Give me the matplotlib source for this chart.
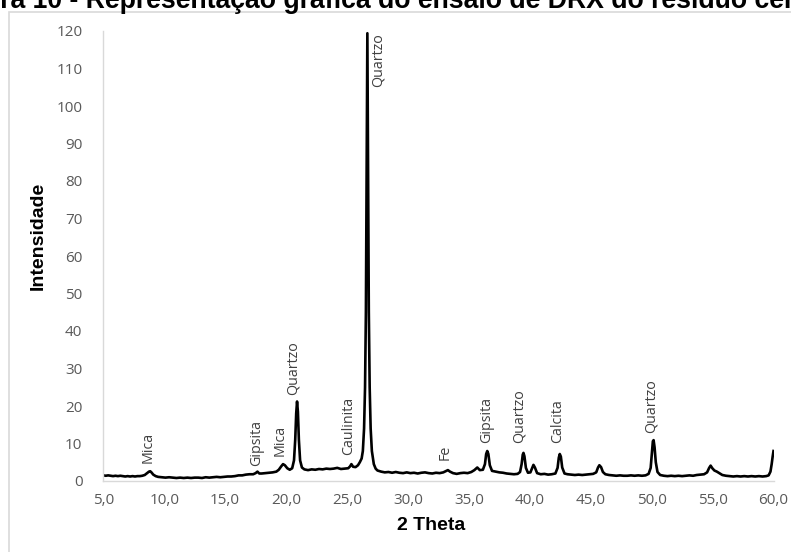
import matplotlib
matplotlib.use('Agg')
import matplotlib.pyplot as plt
from matplotlib.patches import Rectangle

# ---- data ----
two_theta = [5.0, 5.2, 5.4, 5.6, 5.8, 6.0, 6.2, 6.4, 6.6, 6.8, 7.0, 7.2, 7.4, 7.6, 7.8, 8.0, 8.2, 8.4, 8.6, 8.75,
             8.85, 8.95, 9.1, 9.3, 9.5, 9.8, 10.1, 10.4, 10.7, 11.0, 11.3, 11.6, 11.9, 12.2, 12.5, 12.8, 13.1, 13.4,
             13.7, 14.0, 14.3, 14.6, 14.9, 15.2, 15.5, 15.8, 16.1, 16.4, 16.7, 17.0, 17.3, 17.5, 17.65, 17.8, 18.0,
             18.3, 18.6, 18.9, 19.2, 19.4, 19.6, 19.75, 19.9, 20.1, 20.3, 20.5, 20.65, 20.75, 20.83, 20.9, 20.97,
             21.05, 21.15, 21.3, 21.5, 21.8, 22.1, 22.4, 22.7, 23.0, 23.3, 23.6, 23.9, 24.2, 24.5, 24.8, 25.1, 25.25,
             25.36, 25.5, 25.7, 25.9, 26.05, 26.2, 26.3, 26.4, 26.48, 26.55, 26.6, 26.67, 26.74, 26.79, 26.86, 26.94,
             27.04, 27.2, 27.35, 27.5, 27.8, 28.1, 28.4, 28.7, 29.0, 29.3, 29.6, 29.9, 30.2, 30.5, 30.8, 31.1, 31.4,
             31.7, 32.0, 32.3, 32.6, 32.9, 33.1, 33.28, 33.45, 33.7, 34.0, 34.3, 34.6, 34.9, 35.2, 35.45, 35.69, 35.9,
             36.15, 36.32, 36.42, 36.51, 36.6, 36.72, 36.9, 37.2, 37.5, 37.8, 38.1, 38.4, 38.7, 39.0, 39.2, 39.33,
             39.42, 39.48, 39.56, 39.68, 39.85, 40.05, 40.2, 40.3, 40.42, 40.6, 40.9, 41.2, 41.5, 41.8, 42.1, 42.28,
             42.38, 42.46, 42.55, 42.66, 42.85, 43.1, 43.4, 43.7, 44.0, 44.3, 44.6, 44.9, 45.2, 45.45, 45.6, 45.71,
             45.85, 46.0, 46.2, 46.5, 46.8, 47.1, 47.4, 47.7, 48.0, 48.3, 48.6, 48.9, 49.2, 49.5, 49.75, 49.92, 50.02,
             50.1, 50.16, 50.24, 50.34, 50.48, 50.7, 51.0, 51.3, 51.6, 51.9, 52.2, 52.5, 52.8, 53.1, 53.4, 53.7, 54.0,
             54.3, 54.55, 54.72, 54.84, 54.98, 55.15, 55.35, 55.55, 55.8, 56.1, 56.4, 56.7, 57.0, 57.3, 57.6, 57.9,
             58.2, 58.5, 58.8, 59.1, 59.4, 59.6, 59.75, 59.85, 59.93, 60.0]
intensity = [1.5, 1.4, 1.5, 1.4, 1.3, 1.4, 1.3, 1.4, 1.3, 1.2, 1.3, 1.2, 1.3, 1.2, 1.3, 1.3, 1.4, 1.6, 2.1, 2.5,
             2.6, 2.3, 1.7, 1.3, 1.1, 1.0, 0.9, 1.0, 0.9, 0.8, 0.9, 0.8, 0.9, 0.8, 0.9, 0.9, 0.8, 1.0,
             0.9, 1.0, 1.1, 1.0, 1.1, 1.2, 1.2, 1.3, 1.5, 1.5, 1.7, 1.8, 1.8, 2.1, 2.5, 2.0, 2.0,
             2.1, 2.2, 2.3, 2.5, 3.0, 3.9, 4.5, 4.2, 3.4, 3.0, 3.4, 5.5, 11.0, 18.0, 21.2, 18.5,
             11.0, 5.5, 3.6, 3.1, 2.9, 3.1, 3.0, 3.2, 3.1, 3.3, 3.2, 3.3, 3.5, 3.2, 3.3, 3.4, 3.9,
             4.5, 3.8, 3.7, 4.2, 5.0, 6.0, 8.0, 14.0, 25.0, 45.0, 75.0, 119.4, 75.0, 45.0, 25.0, 14.0,
             8.0, 4.5, 3.3, 2.8, 2.5, 2.3, 2.4, 2.2, 2.4, 2.2, 2.1, 2.3, 2.1, 2.2, 2.0, 2.2, 2.3,
             2.1, 2.0, 2.2, 2.1, 2.3, 2.6, 2.9, 2.5, 2.1, 1.9, 2.1, 2.2, 2.1, 2.4, 2.9, 3.6, 2.9,
             3.0, 4.5, 7.2, 8.0, 7.2, 4.2, 2.7, 2.5, 2.3, 2.2, 2.0, 1.9, 1.8, 1.9, 2.4, 4.5,
             7.0, 7.5, 6.6, 3.5, 2.2, 2.3, 3.5, 4.3, 3.6, 2.1, 1.8, 1.9, 1.7, 1.8, 2.0, 3.5,
             6.2, 7.2, 6.5, 3.6, 2.0, 1.8, 1.7, 1.6, 1.7, 1.6, 1.7, 1.8, 1.9, 2.3, 3.6, 4.2,
             3.7, 2.4, 1.8, 1.6, 1.5, 1.4, 1.5, 1.4, 1.4, 1.5, 1.4, 1.5, 1.4, 1.5, 1.9, 3.5, 7.5,
             10.6, 10.9, 9.0, 5.0, 2.4, 1.6, 1.4, 1.3, 1.4, 1.3, 1.4, 1.3, 1.4, 1.5, 1.4, 1.6, 1.7,
             1.8, 2.3, 3.5, 4.1, 3.4, 2.8, 2.5, 2.1, 1.6, 1.4, 1.3, 1.2, 1.3, 1.2, 1.3, 1.2,
             1.3, 1.2, 1.3, 1.2, 1.3, 1.5, 2.5, 4.5, 6.5, 8.0]

peak_labels = ['Mica', 'Gipsita', 'Mica', 'Quartzo', 'Caulinita', 'Quartzo',
               'Fe', 'Gipsita', 'Quartzo', 'Calcita', 'Quartzo']
label_x = [8.66, 17.57, 19.54, 20.57, 25.16, 27.54, 33.09, 36.48, 39.16, 42.30, 49.95]
label_y = [4.7, 4.0, 6.7, 22.9, 6.9, 119.5, 5.6, 10.05, 10.05, 10.05, 12.9]

x_ticks = [5, 10, 15, 20, 25, 30, 35, 40, 45, 50, 55, 60]
x_tick_labels = ['5,0', '10,0', '15,0', '20,0', '25,0', '30,0', '35,0', '40,0', '45,0', '50,0', '55,0', '60,0']
y_ticks = [0, 10, 20, 30, 40, 50, 60, 70, 80, 90, 100, 110, 120]

title = 'Figura 10 - Representação gráfica do ensaio de DRX do resíduo cerâmico'
x_title = '2 Theta'
y_title = 'Intensidade'

# ---- figure ----
W, H = 791, 552
fig = plt.figure(figsize=(W / 100, H / 100), dpi=100)
fig.patch.set_facecolor('white')

# chart border (light gray, extends past the right/bottom edge)
fig.patches.append(Rectangle((8.5 / W, -0.1), 1.2, 1 - 12 / H + 0.1, transform=fig.transFigure,
                             fill=False, ec='#d9d9d9', lw=1.2, zorder=0))

# clipped title at the very top
renderer = fig.canvas.get_renderer()
tfont = dict(family='Liberation Sans', weight='bold', size=19.2)
tmp = fig.text(0, 0, 'Figu', **tfont)
shift = tmp.get_window_extent(renderer).width
tmp.remove()
fig.text(-shift / W, 1 - 8.5 / H, title, ha='left', va='baseline', color='black', **tfont)

L, R, T, B = 103.3, 773.5, 31.0, 481.0
ax = fig.add_axes([L / W, 1 - B / H, (R - L) / W, (B - T) / H])
ax.plot(two_theta, intensity, color='black', lw=1.9, solid_joinstyle='round')
ax.set_xlim(5, 60)
ax.set_ylim(0, 120)
ax.set_xticks(x_ticks)
ax.set_xticklabels(x_tick_labels)
ax.set_yticks(y_ticks)
for s in ['top', 'right']:
    ax.spines[s].set_visible(False)
for s in ['left', 'bottom']:
    ax.spines[s].set_color('#d9d9d9')
    ax.spines[s].set_linewidth(1.0)
ax.tick_params(length=0, labelcolor='#595959', labelsize=11)
ax.tick_params(axis='y', pad=15)
ax.tick_params(axis='x', pad=9)
for lab in ax.get_xticklabels() + ax.get_yticklabels():
    lab.set_family('Open Sans')

for name, lx, ly in zip(peak_labels, label_x, label_y):
    va = 'top' if ly > 100 else 'bottom'
    ax.text(lx, ly, name, rotation=90, ha='center', va=va, fontsize=10.3,
            family='Open Sans', color='#404040')

fig.text(431 / W, 1 - 525 / H, x_title, ha='center', va='center', fontsize=14,
         family='Liberation Sans', weight='bold', color='black')
fig.text(38.5 / W, 1 - 236 / H, y_title, ha='center', va='center', rotation=90, fontsize=14,
         family='Liberation Sans', weight='bold', color='black')

fig.savefig('out.png', dpi=100)
